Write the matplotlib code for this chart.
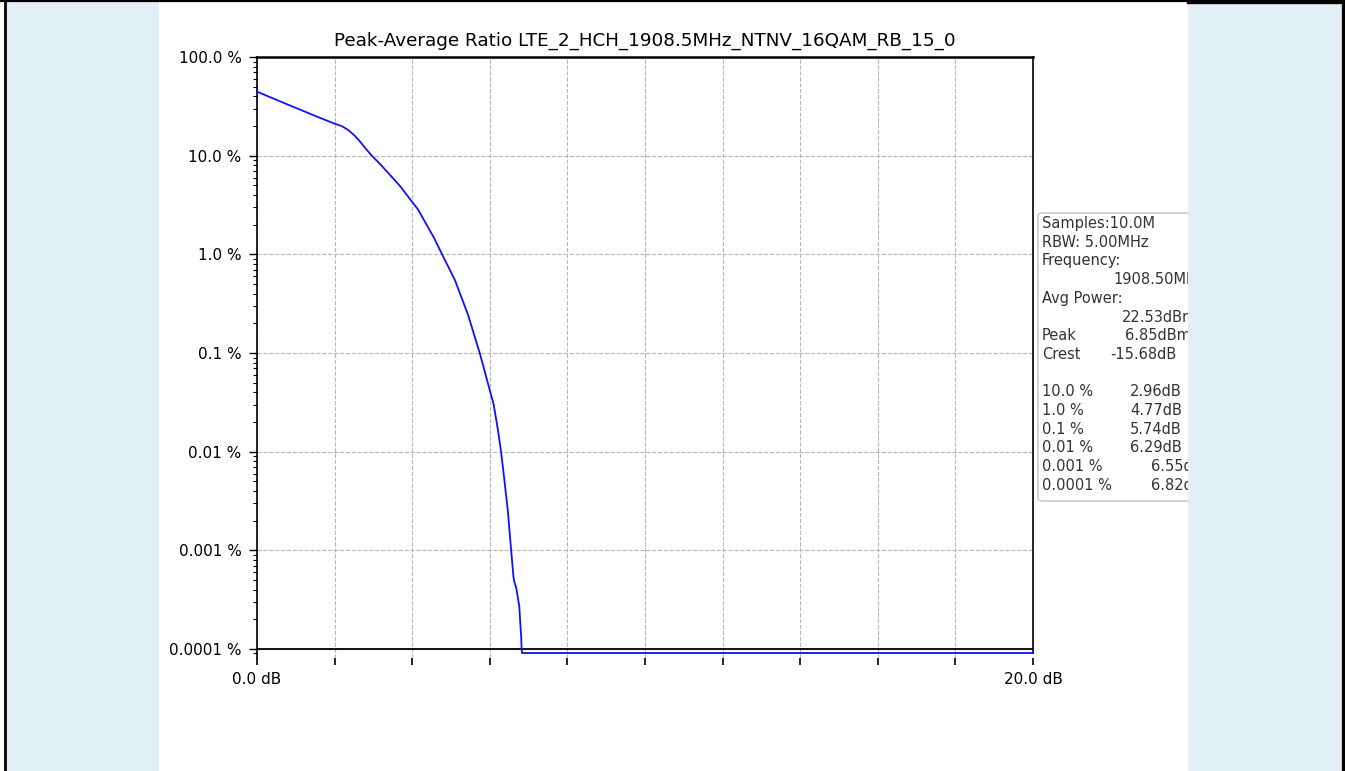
import matplotlib
matplotlib.use("Agg")
import matplotlib.pyplot as plt
from matplotlib.patches import Rectangle, FancyBboxPatch
from matplotlib.lines import Line2D
import matplotlib.ticker as mticker

# ---------------- data ----------------
title = "Peak-Average Ratio LTE_2_HCH_1908.5MHz_NTNV_16QAM_RB_15_0"
x_db = [0.0, 0.5, 1.0, 1.5, 1.96, 2.2, 2.35, 2.5, 2.65, 2.8, 2.96, 3.2, 3.43, 3.69, 3.94, 4.15, 4.33, 4.55, 4.77,
        5.10, 5.44, 5.74, 5.93, 6.1, 6.21, 6.29, 6.38, 6.47, 6.55, 6.61,
        6.63, 6.68, 6.76, 6.78, 6.81, 6.82, 6.83, 20.0]
ccdf_pct = [44.5, 36.8, 30.5, 25.3, 21.4, 19.8, 18.2, 16.2, 14.0, 11.8, 10.0, 8.0, 6.37, 4.9, 3.64, 2.85, 2.13, 1.5, 1.0,
            0.55, 0.243, 0.1, 0.053, 0.03, 0.0166, 0.01, 0.005, 0.0024, 0.001, 0.00054,
            0.00048, 0.00042, 0.00027, 0.0002, 0.00013, 0.0001, 0.000091, 0.000091]
y_ticks = [1e-4, 1e-3, 1e-2, 1e-1, 1.0, 10.0, 100.0]
y_tick_labels = ["0.0001 %", "0.001 %", "0.01 %", "0.1 %", "1.0 %", "10.0 %", "100.0 %"]
x_ticks = [0, 2, 4, 6, 8, 10, 12, 14, 16, 18, 20]
x_tick_labels = ["0.0 dB", "", "", "", "", "", "", "", "", "", "20.0 dB"]

info_lines = ["Samples:10.0M", "RBW: 5.00MHz", "Frequency:", "Avg Power:", "Peak", "Crest"]
freq_value = "1908.50MHz"
avg_power_value = "22.53dBm"
peak_value = "6.85dBm"
crest_value = "-15.68dB"
stat_labels = ["10.0 %", "1.0 %", "0.1 %", "0.01 %", "0.001 %", "0.0001 %"]
stat_values = ["2.96dB", "4.77dB", "5.74dB", "6.29dB", "6.55dB", "6.82dB"]

# ---------------- figure ----------------
W, H = 1345, 771
fig = plt.figure(figsize=(W / 100, H / 100), dpi=100)
fig.patch.set_facecolor("white")

def fx(px):
    return px / W

def fy(py):
    return 1 - py / H

ax = fig.add_axes([fx(257), fy(658), fx(1033) - fx(257), fy(57) - fy(658)])
ax.set_yscale("log")
ax.set_xlim(0, 20)
ax.set_ylim(8.1e-5, 100)

ax.plot(x_db, ccdf_pct, color="#1010ff", lw=1.3, clip_on=False, zorder=3)
ax.axhline(1e-4, color="black", lw=1.3, zorder=2)

ax.set_yticks(y_ticks)
ax.set_yticklabels(y_tick_labels)
ax.yaxis.set_minor_locator(mticker.LogLocator(base=10, subs=range(2, 10), numticks=20))
ax.yaxis.set_minor_formatter(mticker.NullFormatter())
ax.set_xticks(x_ticks)
ax.set_xticklabels(x_tick_labels)

ax.tick_params(axis="y", which="major", length=6, width=1, labelsize=11, pad=5)
ax.tick_params(axis="y", which="minor", length=3, width=0.8)
ax.tick_params(axis="x", which="major", length=5, width=1.2, labelsize=11, pad=5)

ax.grid(True, which="major", axis="both", color="#b5b5b5", linestyle="--", lw=0.8)
ax.set_axisbelow(True)

ax.spines["bottom"].set_visible(False)
ax.spines["top"].set_linewidth(1.8)
ax.spines["left"].set_linewidth(1.2)
ax.spines["right"].set_linewidth(1.2)
ax.spines["right"].set_bounds(9.0e-5, 100)

ax.set_title(title, fontsize=13.2, pad=8)

# ---------------- info box ----------------
box = FancyBboxPatch((fx(1038), fy(501)), fx(1300) - fx(1038), fy(213) - fy(501),
                     boxstyle="round,pad=0,rounding_size=0.004",
                     transform=fig.transFigure, facecolor="white",
                     edgecolor="#cccccc", lw=1.2, zorder=2)
fig.patches.append(box)

fs = 10.5
line_h = 18.7
y0 = 223.5
tx = 1042
col_txt = "#333333"
fig.text(fx(tx), fy(y0), info_lines[0], fontsize=fs, va="center", ha="left", color=col_txt, zorder=3)
fig.text(fx(tx), fy(y0 + line_h), info_lines[1], fontsize=fs, va="center", ha="left", color=col_txt, zorder=3)
fig.text(fx(tx), fy(y0 + 2 * line_h), info_lines[2], fontsize=fs, va="center", ha="left", color=col_txt, zorder=3)
fig.text(fx(1113), fy(y0 + 3 * line_h), freq_value, fontsize=fs, va="center", ha="left", color=col_txt, zorder=3)
fig.text(fx(tx), fy(y0 + 4 * line_h), info_lines[3], fontsize=fs, va="center", ha="left", color=col_txt, zorder=3)
fig.text(fx(1122), fy(y0 + 5 * line_h), avg_power_value, fontsize=fs, va="center", ha="left", color=col_txt, zorder=3)
fig.text(fx(tx), fy(y0 + 6 * line_h), info_lines[4], fontsize=fs, va="center", ha="left", color=col_txt, zorder=3)
fig.text(fx(1125), fy(y0 + 6 * line_h), peak_value, fontsize=fs, va="center", ha="left", color=col_txt, zorder=3)
fig.text(fx(tx), fy(y0 + 7 * line_h), info_lines[5], fontsize=fs, va="center", ha="left", color=col_txt, zorder=3)
fig.text(fx(1110), fy(y0 + 7 * line_h), crest_value, fontsize=fs, va="center", ha="left", color=col_txt, zorder=3)

stat_x = [1130, 1130, 1130, 1130, 1151, 1151]
for i, (lab, val) in enumerate(zip(stat_labels, stat_values)):
    yy = y0 + (9 + i) * line_h
    fig.text(fx(tx), fy(yy), lab, fontsize=fs, va="center", ha="left", color=col_txt, zorder=3)
    fig.text(fx(stat_x[i]), fy(yy), val, fontsize=fs, va="center", ha="left", color=col_txt, zorder=3)

# ---------------- side panels & border ----------------
panel_col = "#e2eff6"
fig.patches.append(Rectangle((fx(6), 0), fx(159) - fx(6), fy(2), transform=fig.transFigure,
                             facecolor=panel_col, edgecolor="none", zorder=10))
fig.patches.append(Rectangle((fx(1188), 0), fx(1341) - fx(1188), fy(3), transform=fig.transFigure,
                             facecolor=panel_col, edgecolor="none", zorder=10))
fig.lines.append(Line2D([0, 1], [fy(1), fy(1)], transform=fig.transFigure, color="black", lw=1.6, zorder=11))
fig.lines.append(Line2D([fx(1188), 1], [fy(1.5), fy(1.5)], transform=fig.transFigure, color="black", lw=2.4, zorder=11))
fig.lines.append(Line2D([fx(5), fx(5)], [0, 1], transform=fig.transFigure, color="black", lw=2.0, zorder=11))
fig.lines.append(Line2D([fx(1342.5), fx(1342.5)], [0, 1], transform=fig.transFigure, color="black", lw=2.4, zorder=11))

fig.savefig("out.png", dpi=100)
